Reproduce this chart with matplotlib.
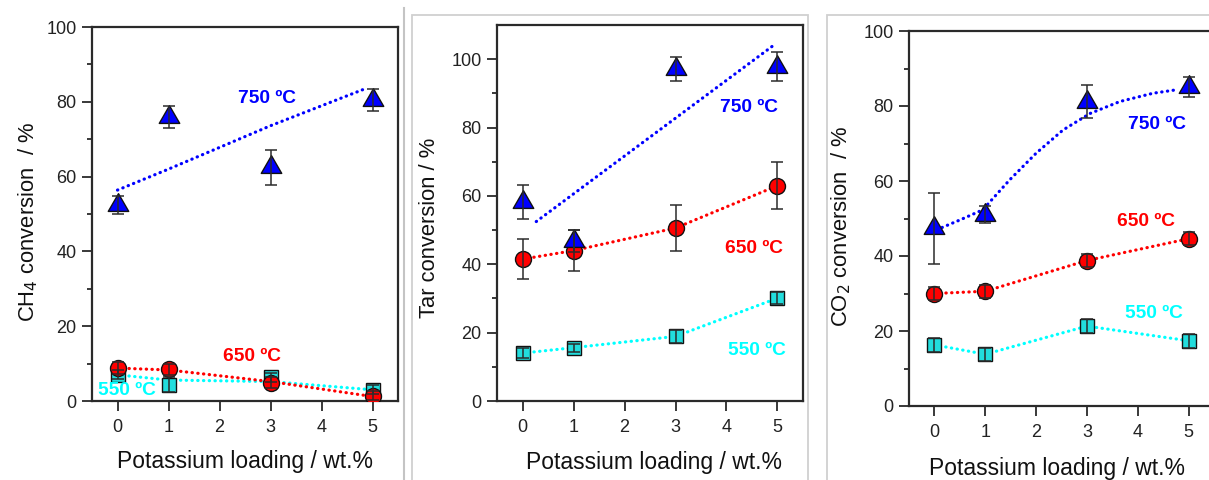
import matplotlib
matplotlib.use("Agg")
import matplotlib.pyplot as plt
from matplotlib.patches import Rectangle
from matplotlib.lines import Line2D
from matplotlib.path import Path
import numpy as np

plt.rcParams['font.family'] = ['Liberation Sans', 'DejaVu Sans']

# ---------------- data ----------------
loading = [0, 1, 3, 5]

# CH4 conversion
ch4_750 = [52.4, 76.0, 62.5, 80.5]
ch4_750_err = [2.5, 3.0, 4.7, 3.0]
ch4_650 = [8.8, 8.5, 4.9, 1.4]
ch4_650_err = [1.5, 1.5, 1.5, 1.2]
ch4_550 = [7.0, 4.4, 6.3, 3.0]
ch4_550_err = [1.2, 2.0, 1.2, 1.2]
ch4_750_trend_x = [0.0, 1.0, 3.0, 4.82]
ch4_750_trend_y = [56.4, 62.0, 73.6, 83.3]
ch4_650_trend_x = [0, 1, 3, 5]
ch4_650_trend_y = [8.8, 8.3, 5.2, 1.2]
ch4_550_trend_x = [0, 1, 3, 5]
ch4_550_trend_y = [7.0, 5.6, 5.2, 3.0]

# Tar conversion
tar_750 = [58.3, 46.8, 97.0, 97.8]
tar_750_err = [5.0, 3.3, 3.5, 4.2]
tar_650 = [41.5, 44.0, 50.6, 63.0]
tar_650_err = [5.8, 6.0, 6.7, 6.8]
tar_550 = [14.0, 15.6, 18.9, 30.1]
tar_550_err = [1.5, 1.2, 1.8, 1.8]
tar_750_trend_x = [0.27, 4.9]
tar_750_trend_y = [52.5, 103.8]
tar_650_trend_x = [0, 1, 3, 5]
tar_650_trend_y = [41.5, 44.0, 50.6, 63.0]
tar_550_trend_x = [0, 1, 3, 5]
tar_550_trend_y = [14.0, 15.6, 18.9, 30.1]

# CO2 conversion
co2_750 = [47.4, 51.0, 81.2, 85.0]
co2_750_err = [9.5, 2.3, 4.3, 2.7]
co2_650 = [30.0, 30.6, 38.8, 44.6]
co2_650_err = [1.8, 1.8, 1.8, 1.8]
co2_550 = [16.3, 13.8, 21.3, 17.4]
co2_550_err = [1.8, 1.8, 1.8, 1.8]
co2_750_trend_x = [0.15, 0.5, 0.95, 1.48, 2.0, 2.53, 3.06, 3.65, 4.3, 4.8]
co2_750_trend_y = [47.6, 49.6, 52.3, 60.3, 67.4, 73.6, 78.0, 81.2, 83.4, 84.4]
co2_650_trend_x = [0, 1, 3, 5]
co2_650_trend_y = [30.0, 30.6, 38.8, 44.6]
co2_550_trend_x = [0, 1, 3, 5]
co2_550_trend_y = [16.3, 13.8, 21.3, 17.4]

temp_labels = ['750 ºC', '650 ºC', '550 ºC']

# ---------------- styling ----------------
BLUE = '#0000ff'
RED = '#ff0000'
CYAN = '#00ffff'
SQ_FILL = '#22dddd'
DARK = '#2b2b2b'

tri = Path([(0, 0.577), (-0.5, -0.289), (0.5, -0.289), (0, 0.577)],
           [Path.MOVETO, Path.LINETO, Path.LINETO, Path.CLOSEPOLY])

W, H = 1209, 480
fig = plt.figure(figsize=(W / 100, H / 100), dpi=100)


def pix_axes(left, right, top, bottom):
    return fig.add_axes([left / W, 1 - bottom / H, (right - left) / W, (bottom - top) / H])


def style_axes(ax, ylim, yticks, yminor):
    ax.set_xlim(-0.5, 5.5)
    ax.set_ylim(*ylim)
    ax.set_xticks([0, 1, 2, 3, 4, 5])
    ax.set_yticks(yticks)
    ax.set_yticks(yminor, minor=True)
    for s in ax.spines.values():
        s.set_linewidth(1.6)
        s.set_color('#2a2a2a')
    ax.tick_params(axis='both', which='major', direction='out', length=7, width=1.3,
                   colors='#2a2a2a', labelsize=13, labelcolor='#222222')
    ax.tick_params(axis='x', which='major', pad=6)
    ax.tick_params(axis='y', which='major', pad=4)
    ax.tick_params(axis='y', which='minor', direction='out', length=3.5, width=1.3,
                   colors='#2a2a2a')
    ax.tick_params(top=False, right=False)


def draw_series(ax, y, err, tx, ty, color, marker, ms, face, lw=2.3):
    ax.plot(tx, ty, linestyle=(0, (0.1, 1.7)), color=color, linewidth=lw, zorder=2,
            dash_capstyle='round')
    ax.plot(loading, y, linestyle='none', marker=marker, markersize=ms,
            markerfacecolor=face, markeredgecolor='#111111', markeredgewidth=1.0, zorder=3)
    ax.errorbar(loading, y, yerr=err, fmt='none', ecolor=DARK, elinewidth=1.1,
                capsize=4.5, capthick=1.1, zorder=4)


def temp_text(ax, x, y, s, color):
    ax.text(x, y, s, color=color, fontsize=13.8, fontweight='bold', ha='center', va='center',
            zorder=5)


# ---------------- panel decorations ----------------
fig.add_artist(Line2D([404 / W, 404 / W], [1 - 8 / H, 0], color='#c4c4c4', lw=1.5,
                      transform=fig.transFigure))
fig.add_artist(Rectangle((412 / W, -0.05), (808 - 412) / W, 1.05 - 15 / H,
                         transform=fig.transFigure, fill=False, edgecolor='#d0d0d0', lw=1.3))
fig.add_artist(Rectangle((827 / W, -0.05), 0.5, 1.05 - 15 / H,
                         transform=fig.transFigure, fill=False, edgecolor='#d0d0d0', lw=1.3))

YLBL = dict(fontsize=15.8, color='#111111')
XLBL = dict(fontsize=16.5, color='#111111')

# ---------------- Panel 1: CH4 ----------------
ax1 = pix_axes(92, 398, 27, 401)
style_axes(ax1, (0, 100), [0, 20, 40, 60, 80, 100], [10, 30, 50, 70, 90])
draw_series(ax1, ch4_550, ch4_550_err, ch4_550_trend_x, ch4_550_trend_y, CYAN, 's', 10, SQ_FILL)
draw_series(ax1, ch4_650, ch4_650_err, ch4_650_trend_x, ch4_650_trend_y, RED, 'o', 11.5, RED)
draw_series(ax1, ch4_750, ch4_750_err, ch4_750_trend_x, ch4_750_trend_y, BLUE, tri, 17, BLUE)
temp_text(ax1, 2.93, 81, temp_labels[0], BLUE)
temp_text(ax1, 2.64, 12, temp_labels[1], RED)
temp_text(ax1, 0.18, 2.8, temp_labels[2], CYAN)
ax1.set_ylabel('CH$_4$ conversion  / %', **YLBL)
ax1.yaxis.set_label_coords(-0.17, 0.48)
ax1.set_xlabel('Potassium loading / wt.%', **XLBL)
ax1.xaxis.set_label_coords(0.5, -0.132)

# ---------------- Panel 2: Tar ----------------
ax2 = pix_axes(497, 803, 25, 401)
style_axes(ax2, (0, 110), [0, 20, 40, 60, 80, 100], [10, 30, 50, 70, 90])
draw_series(ax2, tar_550, tar_550_err, tar_550_trend_x, tar_550_trend_y, CYAN, 's', 10, SQ_FILL)
draw_series(ax2, tar_650, tar_650_err, tar_650_trend_x, tar_650_trend_y, RED, 'o', 11.5, RED)
draw_series(ax2, tar_750, tar_750_err, tar_750_trend_x, tar_750_trend_y, BLUE, tri, 17, BLUE)
temp_text(ax2, 4.45, 86, temp_labels[0], BLUE)
temp_text(ax2, 4.53, 44.5, temp_labels[1], RED)
temp_text(ax2, 4.59, 14.7, temp_labels[2], CYAN)
ax2.set_ylabel('Tar conversion / %', **YLBL)
ax2.yaxis.set_label_coords(-0.185, 0.46)
ax2.set_xlabel('Potassium loading / wt.%', **XLBL)
ax2.xaxis.set_label_coords(0.513, -0.132)

# ---------------- Panel 3: CO2 ----------------
ax3 = pix_axes(909, 1214, 31, 406)
style_axes(ax3, (0, 100), [0, 20, 40, 60, 80, 100], [10, 30, 50, 70, 90])
draw_series(ax3, co2_550, co2_550_err, co2_550_trend_x, co2_550_trend_y, CYAN, 's', 10, SQ_FILL)
draw_series(ax3, co2_650, co2_650_err, co2_650_trend_x, co2_650_trend_y, RED, 'o', 11.5, RED)
draw_series(ax3, co2_750, co2_750_err, co2_750_trend_x, co2_750_trend_y, BLUE, tri, 17, BLUE)
temp_text(ax3, 4.38, 75, temp_labels[0], BLUE)
temp_text(ax3, 4.16, 49.3, temp_labels[1], RED)
temp_text(ax3, 4.32, 24.8, temp_labels[2], CYAN)
ax3.set_ylabel('CO$_2$ conversion  / %', **YLBL)
ax3.yaxis.set_label_coords(-0.183, 0.48)
ax3.set_xlabel('Potassium loading / wt.%', **XLBL)
ax3.xaxis.set_label_coords(0.486, -0.137)

fig.savefig('out.png', dpi=100)
